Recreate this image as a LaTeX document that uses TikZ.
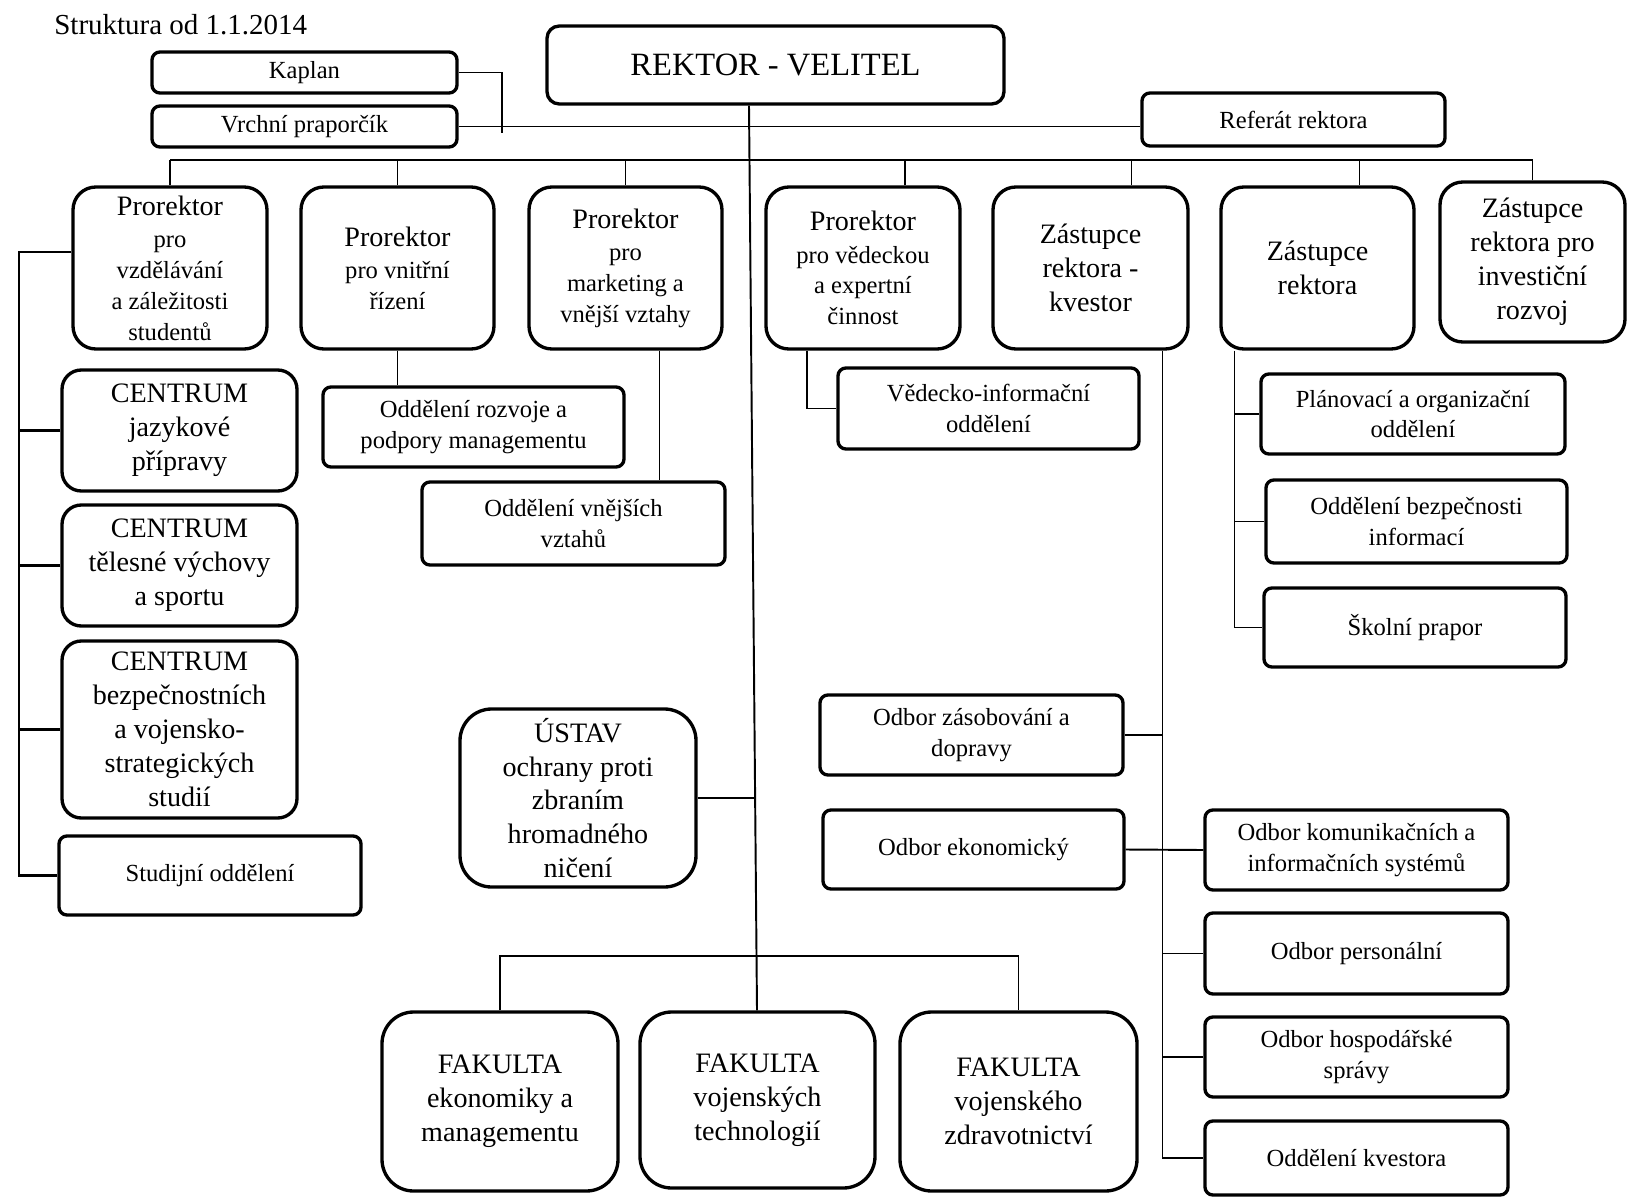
\documentclass[tikz,border=0pt]{standalone}
\usepackage{fontspec}
\setmainfont{Liberation Serif}
\usepackage{tikz}
\usetikzlibrary{calc}
\newcommand{\fsm}{\fontsize{14}{17.5}\selectfont}
\newcommand{\fmd}{\fontsize{16}{19.3}\selectfont}
\newcommand{\fbg}{\fontsize{18.5}{22}\selectfont}
\tikzset{wh/.style 2 args={minimum width=#1*0.02cm, minimum height=#2*0.02cm}}
\tikzset{ubox/.style={draw, line width=1.9pt, rounded corners=4.5pt, inner sep=0pt, align=center, font=\fsm}}
\tikzset{rbox/.style={ubox, rounded corners=13pt, font=\fmd}}
\tikzset{conn/.style={draw, line width=1.1pt}}
\tikzset{conn2/.style={draw, line width=1.7pt}}
\begin{document}
\begin{tikzpicture}[x=0.02cm, y=-0.02cm]
\useasboundingbox (0,0) rectangle (1627,1197);
\node[anchor=west, inner sep=0pt, font=\fontsize{16.5}{20}\selectfont] (tit) at (54,25) {Struktura od 1.1.2014};
% vedeni
\node[ubox, wh={457}{78}, rounded corners=7pt, font=\fbg] (rek) at (775.5,65) {REKTOR - VELITEL};
\node[ubox, wh={305}{41}] (kap) at (304.5,72.5) {Kaplan};
\node[ubox, wh={305}{41}] (vrp) at (304.5,126.5) {Vrchní praporčík};
\node[ubox, wh={303}{53}] (ref) at (1293.5,119.5) {Referát rektora};
% prorektori a zastupci
\node[rbox, wh={194}{162}, font=\fsm] (pa) at (170,268) {{\fmd Prorektor}\\[1pt] pro\\ vzdělávání\\ a záležitosti\\ studentů};
\node[rbox, wh={193}{162}, font=\fsm] (pb) at (397.5,268) {{\fmd Prorektor}\\[1pt] pro vnitřní\\ řízení};
\node[rbox, wh={193}{162}, font=\fsm] (pc) at (625.5,268) {{\fmd Prorektor}\\[1pt] pro\\ marketing a\\ vnější vztahy};
\node[rbox, wh={194}{162}, font=\fsm] (pd) at (863,268) {{\fmd Prorektor}\\[1pt] pro vědeckou\\ a expertní\\ činnost};
\node[rbox, wh={195}{162}] (pe) at (1090.5,268) {Zástupce\\ rektora -\\ kvestor};
\node[rbox, wh={193}{162}] (pf) at (1317.5,268) {Zástupce\\ rektora};
\node[rbox, wh={185}{160}] (pg) at (1532.5,262) {Zástupce\\ rektora pro\\ investiční\\ rozvoj};
% centra
\node[rbox, wh={235}{121}, rounded corners=11pt] (cj) at (179.5,430.5) {CENTRUM\\ jazykové\\ přípravy};
\node[rbox, wh={235}{121}, rounded corners=11pt] (ct) at (179.5,565.5) {CENTRUM\\ tělesné výchovy\\ a sportu};
\node[rbox, wh={235}{177}, rounded corners=11pt] (cb) at (179.5,729.5) {CENTRUM\\ bezpečnostních\\ a vojensko-\\ strategických\\ studií};
\node[ubox, wh={302}{79}] (so) at (210,875.5) {Studijní oddělení};
% oddeleni
\node[ubox, wh={301}{80}] (odr) at (473.5,427) {Oddělení rozvoje a\\ podpory managementu};
\node[ubox, wh={303}{83}] (ovv) at (573.5,523.5) {Oddělení vnějších\\ vztahů};
\node[ubox, wh={301}{81}] (vio) at (988.5,408.5) {Vědecko-informační\\ oddělení};
\node[ubox, wh={304}{80}] (poo) at (1413,414) {Plánovací a organizační\\ oddělení};
\node[ubox, wh={301}{83}] (obi) at (1416.5,521.5) {Oddělení bezpečnosti\\ informací};
\node[ubox, wh={302}{79}] (skp) at (1415,627.5) {Školní prapor};
\node[ubox, wh={303}{80}] (ozd) at (971.5,735) {Odbor zásobování a\\ dopravy};
\node[ubox, wh={301}{79}] (oek) at (973.5,849.5) {Odbor ekonomický};
\node[ubox, wh={303}{80}] (oki) at (1356.5,850) {Odbor komunikačních a\\ informačních systémů};
\node[ubox, wh={303}{81}] (ope) at (1356.5,953.5) {Odbor personální};
\node[ubox, wh={303}{80}] (ohs) at (1356.5,1057) {Odbor hospodářské\\ správy};
\node[ubox, wh={303}{74}] (okv) at (1356.5,1158) {Oddělení kvestora};
% ustav a fakulty
\node[rbox, wh={236}{178}, rounded corners=18pt] (ust) at (578,798) {ÚSTAV\\ ochrany proti\\ zbraním\\ hromadného\\ ničení};
\node[rbox, wh={236}{179}, rounded corners=18pt] (fa1) at (500,1101.5) {FAKULTA\\ ekonomiky a\\ managementu};
\node[rbox, wh={235}{176}, rounded corners=18pt] (fa2) at (757.5,1100) {FAKULTA\\ vojenských\\ technologií};
\node[rbox, wh={237}{179}, rounded corners=18pt] (fa3) at (1018.5,1101.5) {FAKULTA\\ vojenského\\ zdravotnictví};
% spojnice
\coordinate (trT) at (749,0);
\coordinate (trB) at (757,0);
\coordinate (tr) at (755,0);
\coordinate (bus) at (0,160);
\coordinate (lc) at (19,0);
\coordinate (fb) at (0,956);
\coordinate (kapend) at (502,133);
\draw[conn] (rek.south -| trT) -- (fa2.north -| trB);
\draw[conn] (kap.east) -| (kapend);
\draw[conn] (vrp.east) -- (vrp.east -| ref.west);
\draw[conn] (pa.north |- bus) -- (pg.north |- bus);
\foreach \n in {pa,pb,pc,pg}
    \draw[conn] (\n.north) -- (\n.north |- bus);
\draw[conn] ($(pd.north)+(42,0)$) coordinate (d0) -- (d0 |- bus);
\draw[conn] ($(pe.north)+(41,0)$) coordinate (e1) -- (e1 |- bus);
\draw[conn] ($(pf.north)+(42,0)$) coordinate (f1) -- (f1 |- bus);
% leva vetev
\draw[conn2] ($(pa.west)+(0,-16)$) -| (so.west -| lc) -- (so.west);
\foreach \n in {cj,ct,cb}
    \draw[conn2] (\n.west) -- (\n.west -| lc);
\draw[conn] (pb.south) -- (pb.south |- odr.north);
\draw[conn] ($(pc.south)+(34,0)$) coordinate (c0) -- (c0 |- ovv.north);
\draw[conn] ($(pd.south)+(-56,0)$) |- (vio.west);
% kvestor
\draw[conn] ($(pe.south)+(72,0)$) coordinate (e0) |- (okv.west);
\draw[conn] (ozd.east) -- (ozd.east -| e0);
\draw[conn] (oek.east) -- (oki.west);
\foreach \n in {ope,ohs}
    \draw[conn] (\n.west) -- (\n.west -| e0);
% zastupce
\draw[conn] ($(pf.south)+(-83,0)$) coordinate (f0) |- (skp.west);
\foreach \n in {poo,obi}
    \draw[conn] (\n.west) -- (\n.west -| f0);
\draw[conn] (ust.east) -- (ust.east -| tr);
\draw[conn] (fa1.north) -- (fa1.north |- fb) -- (fa3.north |- fb) -- (fa3.north);
\end{tikzpicture}
\end{document}
